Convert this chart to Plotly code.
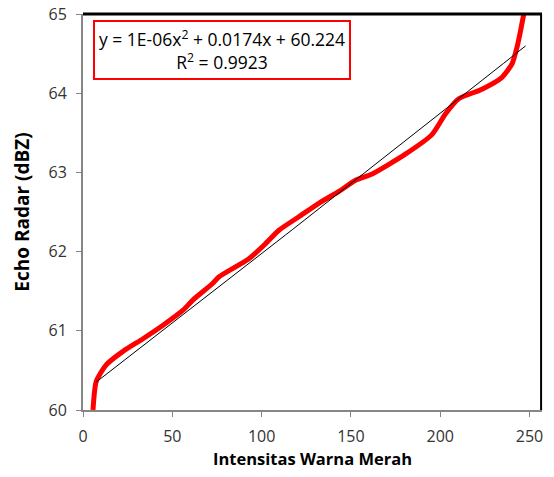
import numpy as np
import plotly.graph_objects as go

intensitas = [5.6, 7.4, 13, 22.4, 33.6, 44.8, 56, 61.6, 72.7, 76, 92.9, 102.2, 109.7,
              120.9, 132, 143.3, 152.6, 161.9, 180.5, 195.5, 203, 210.4, 223.4, 234.6,
              240.2, 243, 245, 246.8]
echo = [60.0, 60.36, 60.57, 60.74, 60.90, 61.07, 61.26, 61.39, 61.60, 61.68, 61.91, 62.10,
        62.27, 62.44, 62.61, 62.76, 62.90, 62.98, 63.23, 63.48, 63.74, 63.93, 64.05, 64.20,
        64.37, 64.58, 64.79, 65.0]

# Trendline coefficients (from the chart's equation)
coef = [1e-06, 0.0174, 60.224]
trend_x_range = [7.3, 247.8]

x_ticks = [0, 50, 100, 150, 200, 250]
y_ticks = [60, 61, 62, 63, 64, 65]

tx = np.linspace(trend_x_range[0], trend_x_range[1], 60)
ty = np.polyval(coef, tx)

fig = go.Figure()
fig.add_trace(go.Scatter(x=intensitas, y=echo, mode="lines",
                         line=dict(color="#ff0000", width=5, shape="spline", smoothing=0.6),
                         showlegend=False, hoverinfo="skip"))
fig.add_trace(go.Scatter(x=tx, y=ty, mode="lines",
                         line=dict(color="#000000", width=1),
                         showlegend=False, hoverinfo="skip"))

font = "Open Sans, Liberation Sans, sans-serif"
axis_common = dict(showgrid=False, zeroline=False, showline=True, linecolor="#868686",
                   linewidth=2, ticks="outside", ticklen=5, tickcolor="#868686",
                   automargin=False, ticklabelstandoff=6,
                   tickfont=dict(family=font, size=16, color="#333333"))

fig.update_xaxes(range=[0, 257], tickvals=x_ticks, **axis_common,
                 title=dict(text="<b>Intensitas Warna Merah</b>",
                            font=dict(family=font, size=16.5, color="#000000"), standoff=6))
fig.update_yaxes(range=[60, 65], tickvals=y_ticks, **axis_common,
                 title=dict(text="<b>Echo Radar (dBZ)</b>",
                            font=dict(family=font, size=19, color="#000000"), standoff=14))

# top and right plot-area border
fig.add_shape(type="line", xref="paper", yref="paper", x0=0, x1=1, y0=1, y1=1,
              line=dict(color="#000000", width=3))
fig.add_shape(type="line", xref="paper", yref="paper", x0=0.998, x1=0.998, y0=0, y1=1,
              line=dict(color="#000000", width=2))

fig.add_annotation(xref="paper", yref="paper", x=0.303, y=0.908, xanchor="center", yanchor="middle",
                   text="y = 1E-06x<sup>2</sup> + 0.0174x + 60.224<br>R<sup>2</sup> = 0.9923",
                   showarrow=False, align="center",
                   font=dict(family=font, size=17.5, color="#000000"),
                   bordercolor="#ff0000", borderwidth=2, borderpad=4, bgcolor="#ffffff")

fig.update_layout(width=554, height=477, margin=dict(l=83, r=12, t=14, b=67),
                  plot_bgcolor="#ffffff", paper_bgcolor="#ffffff")

fig.write_html("out.html", config={"displayModeBar": False},
               post_script="document.body.style.margin='0';document.body.style.overflow='hidden';")
